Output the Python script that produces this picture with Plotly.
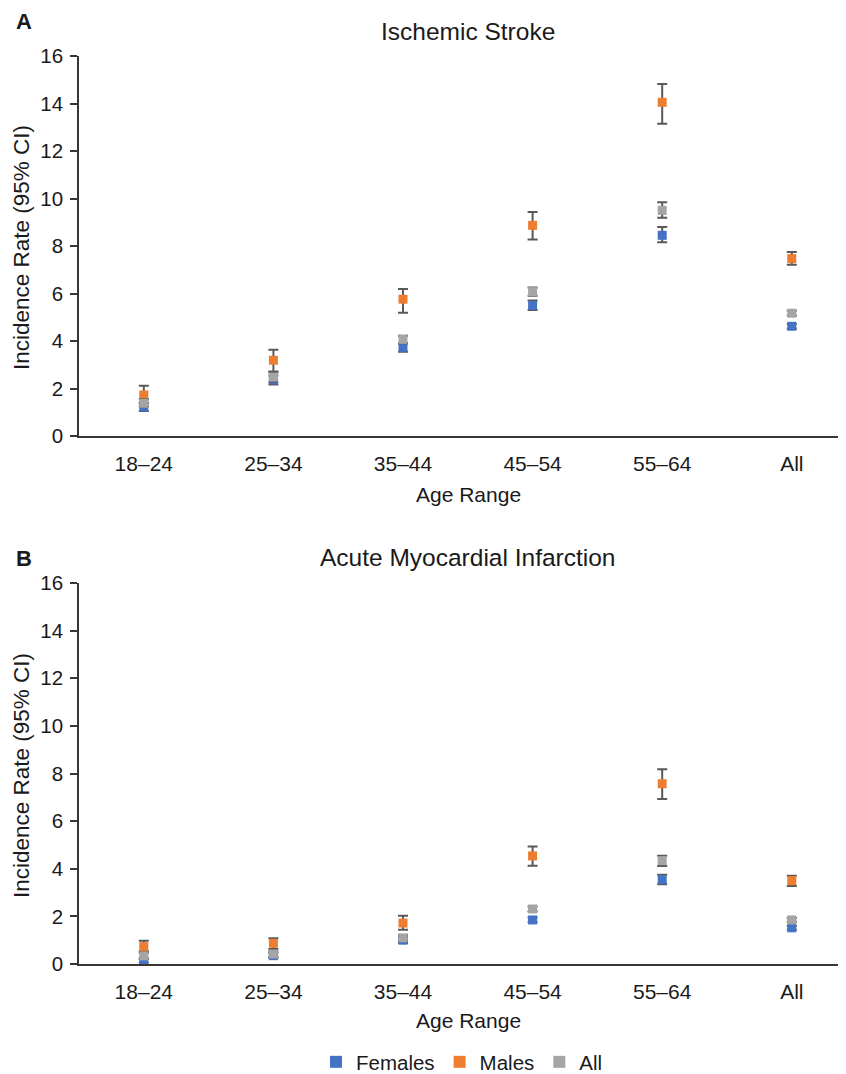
import plotly.graph_objects as go

categories = ["18–24", "25–34", "35–44", "45–54", "55–64", "All"]

# Panel A: Ischemic Stroke
is_fem = [1.22, 2.36, 3.73, 5.50, 8.45, 4.62]
is_fem_lo = [1.05, 2.17, 3.55, 5.30, 8.16, 4.52]
is_fem_hi = [1.40, 2.55, 3.90, 5.70, 8.80, 4.72]
is_male = [1.73, 3.19, 5.76, 8.87, 14.05, 7.47]
is_male_lo = [1.38, 2.72, 5.19, 8.27, 13.15, 7.21]
is_male_hi = [2.12, 3.63, 6.19, 9.43, 14.82, 7.75]
is_all = [1.38, 2.48, 4.07, 6.08, 9.50, 5.17]
is_all_lo = [1.24, 2.28, 3.90, 5.90, 9.19, 5.07]
is_all_hi = [1.55, 2.68, 4.22, 6.25, 9.84, 5.27]

# Panel B: Acute Myocardial Infarction
mi_fem = [0.13, 0.35, 1.00, 1.85, 3.54, 1.52]
mi_fem_lo = [0.06, 0.25, 0.88, 1.75, 3.35, 1.44]
mi_fem_hi = [0.22, 0.45, 1.12, 1.95, 3.75, 1.60]
mi_male = [0.73, 0.87, 1.72, 4.54, 7.57, 3.50]
mi_male_lo = [0.55, 0.63, 1.44, 4.13, 6.93, 3.28]
mi_male_hi = [0.98, 1.08, 2.03, 4.93, 8.18, 3.71]
mi_all = [0.34, 0.42, 1.10, 2.31, 4.34, 1.85]
mi_all_lo = [0.22, 0.32, 0.98, 2.21, 4.12, 1.77]
mi_all_hi = [0.46, 0.52, 1.22, 2.41, 4.55, 1.93]

series_names = ["Females", "Males", "All"]
colors = ["#4472C4", "#ED7D31", "#A5A5A5"]

OFF = 8  # page body margin
W, H = 846 - OFF, 1074 - OFF
L = 79 - OFF
FONT = "Arial, 'Liberation Sans', sans-serif"
TXT = "#1a1a1a"

fig = go.Figure()

panels = [
    ("x", "y", [(is_fem, is_fem_lo, is_fem_hi), (is_male, is_male_lo, is_male_hi), (is_all, is_all_lo, is_all_hi)]),
    ("x2", "y2", [(mi_fem, mi_fem_lo, mi_fem_hi), (mi_male, mi_male_lo, mi_male_hi), (mi_all, mi_all_lo, mi_all_hi)]),
]

for pi, (xa, ya, data) in enumerate(panels):
    for si, (v, lo, hi) in enumerate(data):
        fig.add_trace(go.Scatter(
            x=categories, y=v, xaxis=xa, yaxis=ya, mode="markers",
            name=series_names[si], showlegend=(pi == 0),
            marker=dict(symbol="square", size=9, color=colors[si]),
            error_y=dict(type="data", symmetric=False,
                         array=[h - a for h, a in zip(hi, v)],
                         arrayminus=[a - l for a, l in zip(v, lo)],
                         color="#595959", thickness=2, width=5),
        ))

def py(spx):
    return 1 - (spx - OFF) / H

def px(spx):
    return (spx - OFF - L) / (W - L)

plot_w = W - L
axis_common_x = dict(type="category", range=[-0.5, plot_w / 129.6 - 0.5], showline=True,
                     linecolor="#3b3535", linewidth=2, showgrid=False, zeroline=False,
                     ticks="", automargin=False,
                     tickfont=dict(size=21, color=TXT, family=FONT),
                     ticklabelstandoff=8)
axis_common_y = dict(range=[0, 16], dtick=2, showline=True, linecolor="#3b3535", linewidth=1.5,
                     showgrid=False, zeroline=False, ticks="outside", ticklen=7,
                     tickcolor="#3b3535", tickwidth=1.5, automargin=False,
                     tickfont=dict(size=20.5, color=TXT, family=FONT), ticklabelstandoff=3)

fig.update_layout(
    width=W, height=H,
    margin=dict(l=L, r=0, t=0, b=0, autoexpand=False),
    paper_bgcolor="white", plot_bgcolor="white",
    font=dict(family=FONT, color=TXT),
    xaxis=dict(axis_common_x, domain=[0, 1], anchor="y"),
    yaxis=dict(axis_common_y, domain=[py(436), py(56)], anchor="x"),
    xaxis2=dict(axis_common_x, domain=[0, 1], anchor="y2"),
    yaxis2=dict(axis_common_y, domain=[py(964), py(583)], anchor="x2"),
    legend=dict(orientation="h", x=px(462), xanchor="center", y=py(1062), yanchor="middle",
                font=dict(size=20.5, family=FONT, color=TXT), itemsizing="constant",
                traceorder="normal", itemwidth=30),
    showlegend=True,
)

def ann(text, xs, ys, size, bold=False, angle=0, xanchor="center"):
    fig.add_annotation(text=f"<b>{text}</b>" if bold else text, xref="paper", yref="paper",
                       x=px(xs), y=py(ys), xanchor=xanchor, yanchor="middle",
                       showarrow=False, textangle=angle,
                       font=dict(size=size, family=FONT, color=TXT))

ann("A", 14, 21, 22, bold=True, xanchor="left")
ann("B", 14, 558, 22, bold=True, xanchor="left")
ann("Ischemic Stroke", 468, 31, 24.5)
ann("Acute Myocardial Infarction", 468, 557, 24.5)
ann("Age Range", 468, 494, 21)
ann("Age Range", 468, 1020, 21)
ann("Incidence Rate (95% CI)", 21, 248, 22.5, angle=-90)
ann("Incidence Rate (95% CI)", 21, 776, 22.5, angle=-90)

fig.write_html("out.html")
